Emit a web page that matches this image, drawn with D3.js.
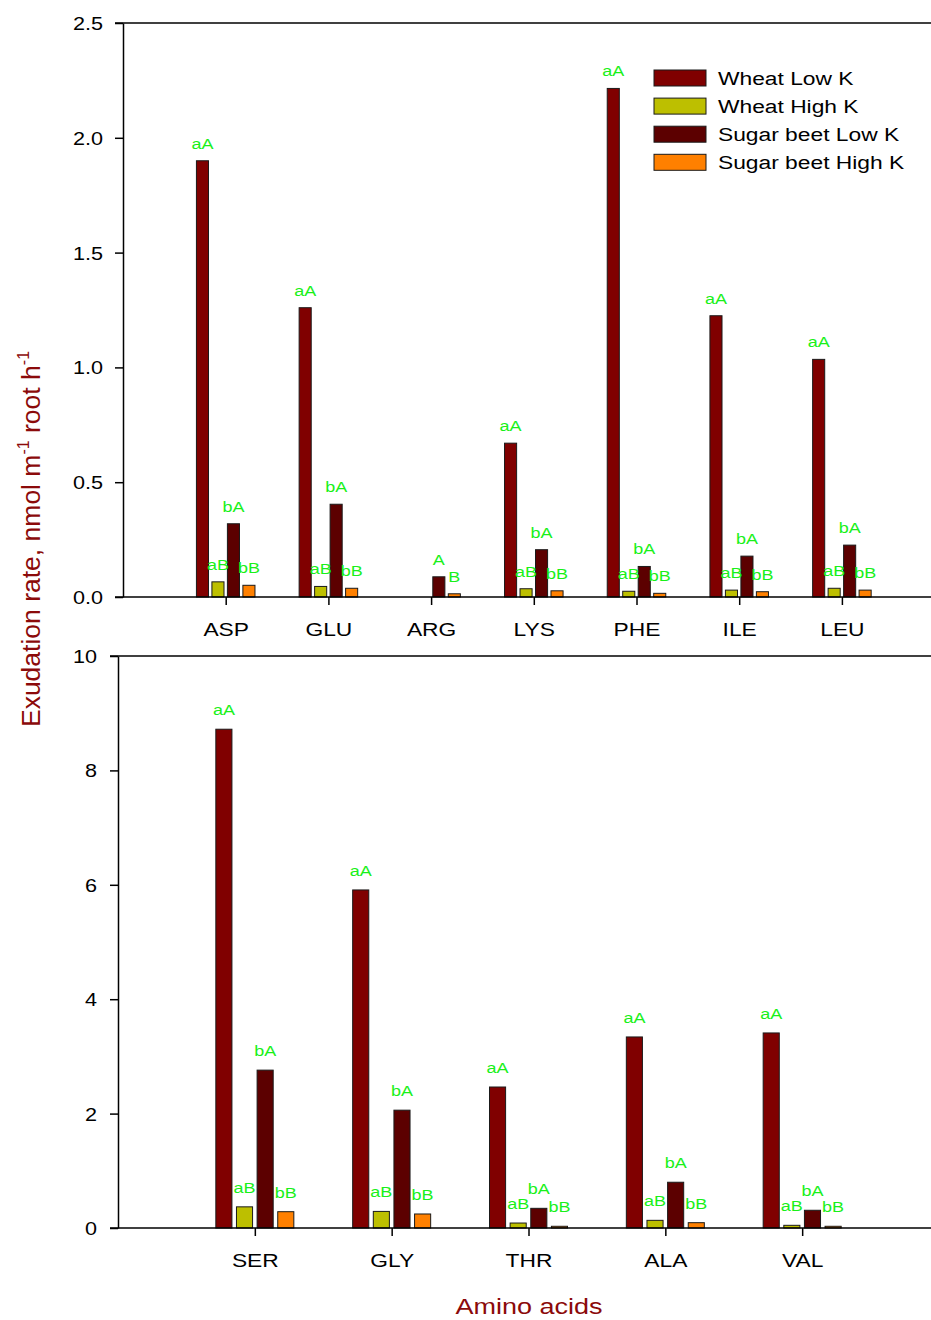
<!DOCTYPE html>
<html>
<head>
<meta charset="utf-8">
<script src="https://cdn.jsdelivr.net/npm/d3@7/dist/d3.min.js"></script>
<style>
  body { margin: 0; background: #fff; }
  svg { display: block; font-family: Arial, "Liberation Sans", sans-serif; }
</style>
</head>
<body>
<svg id="chart" width="931" height="1320"></svg>
<script>
// series names (legend order)
var seriesNames = ["Wheat Low K", "Wheat High K", "Sugar beet Low K", "Sugar beet High K"];

// upper panel
var topCategories = ["ASP", "GLU", "ARG", "LYS", "PHE", "ILE", "LEU"];
var topWheatLow  = [1.90, 1.26, 0, 0.67, 2.215, 1.225, 1.035];
var topWheatHigh = [0.066, 0.046, 0, 0.036, 0.025, 0.030, 0.038];
var topBeetLow   = [0.319, 0.404, 0.088, 0.206, 0.133, 0.178, 0.226];
var topBeetHigh  = [0.051, 0.038, 0.014, 0.027, 0.016, 0.023, 0.030];
var topLetters = [
    ["aA", "aB", "bA", "bB"],
    ["aA", "aB", "bA", "bB"],
    ["", "", "A", "B"],
    ["aA", "aB", "bA", "bB"],
    ["aA", "aB", "bA", "bB"],
    ["aA", "aB", "bA", "bB"],
    ["aA", "aB", "bA", "bB"]
];
var topTicks = [0, 0.5, 1.0, 1.5, 2.0, 2.5];

// lower panel
var botCategories = ["SER", "GLY", "THR", "ALA", "VAL"];
var botWheatLow  = [8.72, 5.91, 2.465, 3.34, 3.41];
var botWheatHigh = [0.37, 0.29, 0.087, 0.134, 0.047];
var botBeetLow   = [2.76, 2.06, 0.344, 0.80, 0.31];
var botBeetHigh  = [0.285, 0.245, 0.03, 0.093, 0.03];
var botLetters = [
    ["aA", "aB", "bA", "bB"],
    ["aA", "aB", "bA", "bB"],
    ["aA", "aB", "bA", "bB"],
    ["aA", "aB", "bA", "bB"],
    ["aA", "aB", "bA", "bB"]
];
var botTicks = [0, 2, 4, 6, 8, 10];

var color = d3.scaleOrdinal()
    .domain(seriesNames)
    .range(["#800000", "#bdbf00", "#5c0000", "#ff8000"]);

var svg = d3.select("#chart");
var STRETCH = 1.2; // the original figure is a bit wider than tall in its glyphs
var green = "#19f019";
var darkRed = "#8b0a0a";

function drawPanel(opt) {
    var n = opt.categories.length;
    var y = d3.scaleLinear().domain(opt.yDomain).range([opt.bottom, opt.top]);
    // categories sit on 1..n of a linear index scale, the plot runs to n+1
    var x = d3.scaleLinear().domain([0, n + 1]).range([opt.left, opt.right]);
    var step = x(1) - x(0);
    var x1 = d3.scaleBand().domain(seriesNames)
        .range([-step * 0.285, step * 0.285]).paddingInner(0.22);

    var g = svg.append("g");

    // rows of data, one per category
    var rows = opt.categories.map(function (c, i) {
        return {
            cat: c, idx: i + 1,
            vals: opt.values.map(function (arr, k) {
                return { key: seriesNames[k], value: arr[i], letter: opt.letters[i][k] };
            })
        };
    });

    var groups = g.selectAll(".grp").data(rows).enter().append("g")
        .attr("class", "grp")
        .attr("transform", function (d) { return "translate(" + x(d.idx) + ",0)"; });

    groups.selectAll("rect")
        .data(function (d) { return d.vals.filter(function (v) { return v.value > 0; }); })
        .enter().append("rect")
        .attr("x", function (d) { return x1(d.key); })
        .attr("width", x1.bandwidth())
        .attr("y", function (d) { return y(d.value); })
        .attr("height", function (d) { return y(0) - y(d.value); })
        .attr("fill", function (d) { return color(d.key); })
        .attr("stroke", "#1a1a1a")
        .attr("stroke-width", 1);

    groups.selectAll("text.sig")
        .data(function (d) { return d.vals.filter(function (v) { return v.letter; }); })
        .enter().append("text")
        .attr("class", "sig")
        .attr("transform", function (d) {
            return "translate(" + (x1(d.key) + x1.bandwidth() / 2) + "," +
                (y(d.value) - opt.letterGap) + ") scale(" + STRETCH + ",1)";
        })
        .attr("text-anchor", "middle")
        .attr("font-size", 15)
        .attr("fill", green)
        .text(function (d) { return d.letter; });

    // frame lines: top border and baseline
    g.append("line")
        .attr("x1", opt.left - opt.tick).attr("x2", 931)
        .attr("y1", y(opt.yDomain[1])).attr("y2", y(opt.yDomain[1]))
        .attr("stroke", "#000").attr("stroke-width", 1.5);
    g.append("line")
        .attr("x1", opt.left - opt.tick).attr("x2", 931)
        .attr("y1", y(0)).attr("y2", y(0))
        .attr("stroke", "#000").attr("stroke-width", 1.5);

    // y axis
    var yAxis = d3.axisLeft(y).tickValues(opt.ticks).tickFormat(opt.fmt)
        .tickSize(opt.tick).tickSizeOuter(0).tickPadding(0);
    var ya = g.append("g").attr("transform", "translate(" + opt.left + ",0)").call(yAxis);
    ya.select(".domain").attr("stroke", "#000").attr("stroke-width", 1.5);
    ya.selectAll(".tick line").attr("stroke", "#000").attr("stroke-width", 1.5);
    ya.selectAll(".tick text")
        .attr("x", null).attr("dy", "0.36em")
        .attr("transform", "translate(" + (-opt.tick - opt.labelPad) + ",0) scale(" + STRETCH + ",1)")
        .attr("font-size", 18).attr("fill", "#000")
        .attr("font-family", "Arial, 'Liberation Sans', sans-serif");

    // x axis ticks and category names
    var xAxis = d3.axisBottom(x)
        .tickValues(d3.range(1, n + 1))
        .tickFormat(function (d) { return opt.categories[d - 1]; })
        .tickSize(8).tickSizeOuter(0).tickPadding(0);
    var xa = g.append("g").attr("transform", "translate(0," + y(0) + ")").call(xAxis);
    xa.select(".domain").remove();
    xa.selectAll(".tick line").attr("stroke", "#000").attr("stroke-width", 1.5);
    xa.selectAll(".tick text")
        .attr("y", null).attr("dy", null)
        .attr("transform", "translate(0,39) scale(" + STRETCH + ",1)")
        .attr("font-size", 19).attr("fill", "#000")
        .attr("font-family", "Arial, 'Liberation Sans', sans-serif");
}

drawPanel({
    categories: topCategories,
    values: [topWheatLow, topWheatHigh, topBeetLow, topBeetHigh],
    letters: topLetters,
    ticks: topTicks,
    fmt: d3.format(".1f"),
    yDomain: [0, 2.5],
    top: 23, bottom: 597, left: 123, right: 944.6,
    tick: 8, labelPad: 12, letterGap: 12
});

drawPanel({
    categories: botCategories,
    values: [botWheatLow, botWheatHigh, botBeetLow, botBeetHigh],
    letters: botLetters,
    ticks: botTicks,
    fmt: d3.format("d"),
    yDomain: [0, 10],
    top: 656, bottom: 1228, left: 118, right: 939,
    tick: 8, labelPad: 13, letterGap: 14
});

// legend
var legend = svg.append("g").attr("transform", "translate(654,70)");
var li = legend.selectAll("g").data(seriesNames).enter().append("g")
    .attr("transform", function (d, i) { return "translate(0," + i * 28.1 + ")"; });
li.append("rect")
    .attr("width", 52).attr("height", 16)
    .attr("fill", function (d) { return color(d); })
    .attr("stroke", "#1a1a1a").attr("stroke-width", 1);
li.append("text")
    .attr("transform", "translate(64,15) scale(" + STRETCH + ",1)")
    .attr("font-size", 19)
    .text(function (d) { return d; });

// axis titles
var yTitle = svg.append("text")
    .attr("transform", "translate(40,539) rotate(-90)")
    .attr("text-anchor", "middle")
    .attr("font-size", 26.5)
    .attr("fill", darkRed);
yTitle.append("tspan").text("Exudation rate, nmol m");
yTitle.append("tspan").attr("font-size", 16).attr("dy", -11).text("-1");
yTitle.append("tspan").attr("dy", 11).text(" root h");
yTitle.append("tspan").attr("font-size", 16).attr("dy", -11).text("-1");

svg.append("text")
    .attr("transform", "translate(529,1314) scale(" + STRETCH + ",1)")
    .attr("text-anchor", "middle")
    .attr("font-size", 22.5)
    .attr("fill", darkRed)
    .text("Amino acids");
</script>
</body>
</html>
